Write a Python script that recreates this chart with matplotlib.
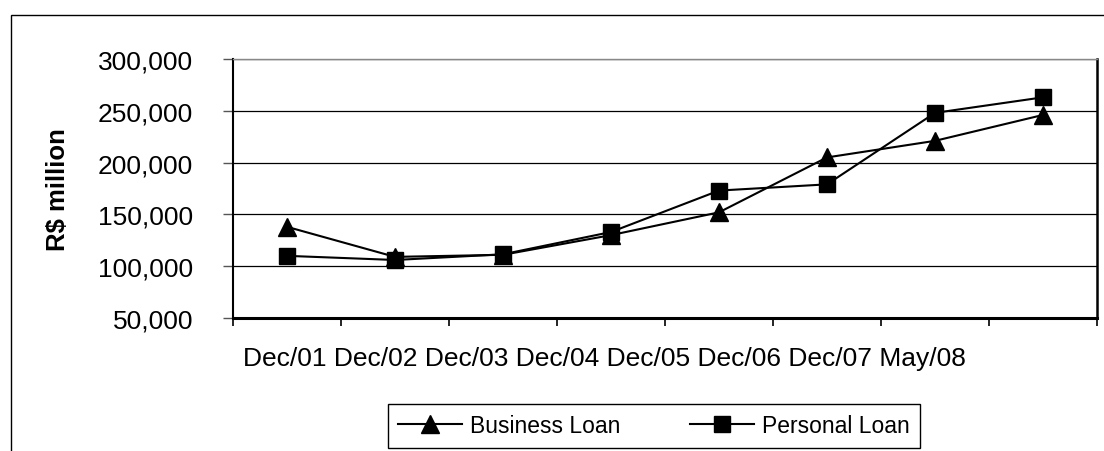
import matplotlib
matplotlib.use("Agg")
import matplotlib.pyplot as plt
from matplotlib.patches import Rectangle
from matplotlib.ticker import FuncFormatter

plt.rcParams['font.family'] = ['Liberation Sans', 'DejaVu Sans']

periods = ["Dec/01", "Dec/02", "Dec/03", "Dec/04", "Dec/05", "Dec/06", "Dec/07", "May/08"]
business_loan = [138000, 109000, 111000, 130000, 152000, 205000, 221000, 246000]
personal_loan = [110000, 106000, 111500, 133000, 173000, 179000, 248000, 263000]
y_ticks = [50000, 100000, 150000, 200000, 250000, 300000]

W, H = 1104, 452
fig = plt.figure(figsize=(W / 100, H / 100), dpi=100)

# outer chart frame (runs off the right and bottom edges)
fig.patches.append(Rectangle((10.5 / W, -0.1), 1.2, 1 - 16 / H + 0.1,
                             transform=fig.transFigure, fill=False,
                             edgecolor='black', linewidth=1.0))

ax = fig.add_axes([233 / W, 1 - 319 / H, (1097 - 233) / W, (319 - 60) / H])

x = [i + 0.5 for i in range(len(periods))]
ax.plot(x, business_loan, color='black', lw=1.5, marker='^', ms=13.5,
        markerfacecolor='black', markeredgecolor='black', label='Business Loan', zorder=3)
ax.plot(x, personal_loan, color='black', lw=1.5, marker='s', ms=12,
        markerfacecolor='black', markeredgecolor='black', label='Personal Loan', zorder=3)

ax.set_xlim(0, len(periods))
ax.set_ylim(y_ticks[0], y_ticks[-1])
ax.set_yticks(y_ticks)
ax.yaxis.set_major_formatter(FuncFormatter(lambda v, p: f"{int(v):,}"))
ax.set_xticks(range(len(periods) + 1))
ax.set_xticklabels([])
ax.grid(axis='y', color='black', lw=0.9)
ax.set_axisbelow(True)

ax.tick_params(axis='y', length=7.2, width=1, pad=21.6, labelsize=19, color='#555555')
ax.tick_params(axis='x', length=6, width=1.2, color='black')

ax.spines['left'].set_linewidth(1.5)
ax.spines['bottom'].set_linewidth(2.2)
ax.spines['right'].set_linewidth(1.8)
ax.spines['top'].set_color('#888888')
ax.spines['top'].set_linewidth(1.0)

# category labels set as a single run of text beneath the axis
ax.text(10 / 864, -(366.5 - 319) / 259, " ".join(periods), transform=ax.transAxes,
        ha='left', va='baseline', fontsize=19)

fig.text(58 / W, 1 - 190 / H, "R$ million", rotation=90, ha='center', va='center',
         fontsize=18.5, fontweight='bold')

leg = fig.legend(loc='upper left', bbox_to_anchor=(388 / W, 1 - 405 / H), ncol=2,
                 fontsize=16.5, frameon=True, fancybox=False, edgecolor='black',
                 framealpha=1, handlelength=2.8, handletextpad=0.35, columnspacing=3.0,
                 borderpad=0.45, borderaxespad=0)
leg.get_frame().set_linewidth(1.0)

fig.savefig("out.png", dpi=100)
